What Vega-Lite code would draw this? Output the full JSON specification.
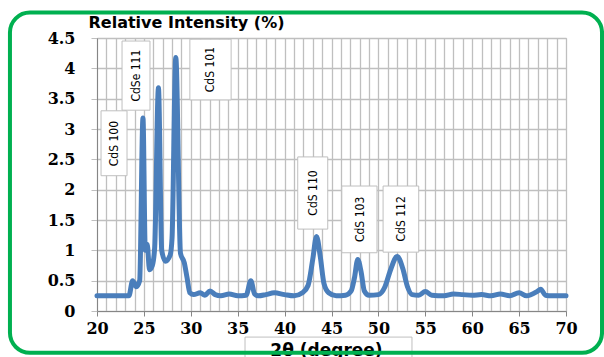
{
  "$schema": "https://vega.github.io/schema/vega-lite/v6.json",
  "autosize": {"type": "none"},
  "width": 469,
  "height": 273,
  "padding": {"left": 97, "top": 38, "right": 38, "bottom": 46},
  "background": "white",
  "config": {"view": {"stroke": "#bfbfbf", "strokeWidth": 1}},
  "datasets": {
    "xrd": [
      {"t": 20, "i": 0.25}, {"t": 21, "i": 0.25}, {"t": 22, "i": 0.25}, {"t": 23, "i": 0.25},
      {"t": 23.4, "i": 0.25}, {"t": 23.8, "i": 0.5}, {"t": 24.2, "i": 0.4}, {"t": 24.55, "i": 0.5},
      {"t": 24.9, "i": 3.18}, {"t": 25.15, "i": 1.0}, {"t": 25.35, "i": 1.1}, {"t": 25.6, "i": 0.68},
      {"t": 25.9, "i": 0.75}, {"t": 26.15, "i": 1.05}, {"t": 26.55, "i": 3.68}, {"t": 26.9, "i": 1.0},
      {"t": 27.3, "i": 0.82}, {"t": 27.8, "i": 0.92}, {"t": 28.0, "i": 1.2}, {"t": 28.4, "i": 4.18},
      {"t": 28.9, "i": 0.95}, {"t": 29.3, "i": 0.8}, {"t": 29.6, "i": 0.55}, {"t": 29.9, "i": 0.3},
      {"t": 30.3, "i": 0.27}, {"t": 31, "i": 0.3}, {"t": 31.5, "i": 0.26}, {"t": 32.05, "i": 0.33},
      {"t": 32.6, "i": 0.27}, {"t": 33.2, "i": 0.25}, {"t": 34.1, "i": 0.28}, {"t": 35, "i": 0.25},
      {"t": 35.9, "i": 0.26}, {"t": 36.4, "i": 0.5}, {"t": 36.8, "i": 0.28}, {"t": 37.2, "i": 0.25},
      {"t": 38, "i": 0.27}, {"t": 38.9, "i": 0.3}, {"t": 40, "i": 0.27}, {"t": 41, "i": 0.25},
      {"t": 41.9, "i": 0.3}, {"t": 42.5, "i": 0.42}, {"t": 43.0, "i": 0.85}, {"t": 43.4, "i": 1.23},
      {"t": 43.8, "i": 0.9}, {"t": 44.2, "i": 0.45}, {"t": 44.7, "i": 0.3}, {"t": 45.5, "i": 0.25},
      {"t": 46.5, "i": 0.26}, {"t": 47.1, "i": 0.33}, {"t": 47.45, "i": 0.55}, {"t": 47.8, "i": 0.85},
      {"t": 48.15, "i": 0.65}, {"t": 48.5, "i": 0.33}, {"t": 49.0, "i": 0.26}, {"t": 50, "i": 0.27},
      {"t": 50.7, "i": 0.4}, {"t": 51.3, "i": 0.68}, {"t": 52.0, "i": 0.9}, {"t": 52.6, "i": 0.7},
      {"t": 53.1, "i": 0.4}, {"t": 53.6, "i": 0.27}, {"t": 54.3, "i": 0.26}, {"t": 55, "i": 0.32},
      {"t": 55.7, "i": 0.26}, {"t": 57, "i": 0.25}, {"t": 58, "i": 0.28}, {"t": 59, "i": 0.27},
      {"t": 60, "i": 0.26}, {"t": 61, "i": 0.27}, {"t": 62, "i": 0.25}, {"t": 63, "i": 0.28},
      {"t": 64, "i": 0.25}, {"t": 65, "i": 0.3}, {"t": 65.8, "i": 0.25}, {"t": 66.9, "i": 0.32},
      {"t": 67.3, "i": 0.36}, {"t": 67.8, "i": 0.26}, {"t": 68.5, "i": 0.25}, {"t": 70, "i": 0.25}
    ],
    "labels": [
      {"label": "CdS 100", "t": 21.8, "i": 2.76, "t1": 20.43, "t2": 23.2, "i1": 2.23, "i2": 3.3},
      {"label": "CdSe 111", "t": 24.16, "i": 3.88, "t1": 22.67, "t2": 25.65, "i1": 3.31, "i2": 4.45},
      {"label": "CdS 101", "t": 32.1, "i": 3.98, "t1": 29.9, "t2": 34.3, "i1": 3.48, "i2": 4.48},
      {"label": "CdS 110", "t": 43.03, "i": 1.945, "t1": 41.4, "t2": 44.6, "i1": 1.35, "i2": 2.54},
      {"label": "CdS 103", "t": 47.99, "i": 1.51, "t1": 46.1, "t2": 49.85, "i1": 0.96, "i2": 2.06},
      {"label": "CdS 112", "t": 52.41, "i": 1.52, "t1": 50.5, "t2": 54.3, "i1": 0.97, "i2": 2.06}
    ]
  },
  "layer": [
    {
      "data": {"name": "xrd"},
      "mark": {"type": "line", "color": "#4A7EBB", "strokeWidth": 5, "interpolate": "monotone", "strokeCap": "round", "strokeJoin": "round"},
      "encoding": {
        "x": {
          "field": "t", "type": "quantitative",
          "scale": {"domain": [20, 70], "nice": false, "zero": false},
          "axis": {
            "values": [20,21,22,23,24,25,26,27,28,29,30,31,32,33,34,35,36,37,38,39,40,41,42,43,44,45,46,47,48,49,50,51,52,53,54,55,56,57,58,59,60,61,62,63,64,65,66,67,68,69,70],
            "tickCount": 60,
            "labelExpr": "datum.value % 5 === 0 ? datum.label : ''",
            "labelOverlap": false,
            "labelFlush": false,
            "labelFont": "DejaVu Serif",
            "labelFontWeight": "bold",
            "labelFontSize": 16,
            "labelColor": "black",
            "labelPadding": 4,
            "tickSize": 5,
            "tickColor": "#868686",
            "tickOpacity": {"condition": {"test": "datum.value % 5 === 0", "value": 1}, "value": 0},
            "domainColor": "#868686",
            "grid": true,
            "gridColor": "#bfbfbf",
            "gridWidth": 1.3,
            "title": "2θ (degree)",
            "titleFont": "DejaVu Sans",
            "titleFontWeight": "bold",
            "titleFontSize": 17,
            "titleColor": "black",
            "titleX": 229,
            "titleY": 39,
            "titleBaseline": "middle"
          }
        },
        "y": {
          "field": "i", "type": "quantitative",
          "scale": {"domain": [0, 4.5], "nice": false},
          "axis": {
            "values": [0, 0.5, 1, 1.5, 2, 2.5, 3, 3.5, 4, 4.5],
            "tickCount": 20,
            "format": "~g",
            "labelOverlap": false,
            "labelFont": "DejaVu Serif",
            "labelFontWeight": "bold",
            "labelFontSize": 16,
            "labelColor": "black",
            "labelPadding": 16,
            "tickSize": 6,
            "tickColor": "#bfbfbf",
            "domainColor": "#868686",
            "grid": true,
            "gridColor": "#bfbfbf",
            "gridWidth": 1.3,
            "title": "Relative Intensity (%)",
            "titleAngle": 0,
            "titleAlign": "left",
            "titleBaseline": "middle",
            "titleX": -9,
            "titleY": -16,
            "titleFont": "DejaVu Sans",
            "titleFontWeight": "bold",
            "titleFontSize": 16,
            "titleColor": "black"
          }
        }
      }
    },
    {
      "data": {"name": "labels"},
      "mark": {"type": "rect", "fill": "white", "stroke": "#bfbfbf", "strokeWidth": 1},
      "encoding": {
        "x": {"field": "t1", "type": "quantitative"},
        "x2": {"field": "t2"},
        "y": {"field": "i1", "type": "quantitative"},
        "y2": {"field": "i2"}
      }
    },
    {
      "data": {"name": "labels"},
      "mark": {"type": "text", "angle": 270, "font": "DejaVu Sans Condensed, DejaVu Sans", "fontSize": 12, "color": "black", "align": "center", "baseline": "middle"},
      "encoding": {
        "x": {"field": "t", "type": "quantitative"},
        "y": {"field": "i", "type": "quantitative"},
        "text": {"field": "label"}
      }
    },
    {
      "data": {"values": [{}]},
      "mark": {"type": "rect", "clip": false, "fill": "white", "fillOpacity": 0, "stroke": "#bfbfbf", "strokeWidth": 1},
      "encoding": {
        "x": {"datum": 35.78, "type": "quantitative"},
        "x2": {"datum": 53.58},
        "y": {"datum": -0.43, "type": "quantitative"},
        "y2": {"datum": -0.84}
      }
    },
    {
      "data": {"values": [{}]},
      "mark": {"type": "rect", "clip": false, "fill": "white", "fillOpacity": 0, "stroke": "#00B050", "strokeWidth": 4, "cornerRadius": 20},
      "encoding": {
        "x": {"datum": 10.72, "type": "quantitative"},
        "x2": {"datum": 73.84},
        "y": {"datum": 4.92, "type": "quantitative"},
        "y2": {"datum": -0.69}
      }
    }
  ]
}
